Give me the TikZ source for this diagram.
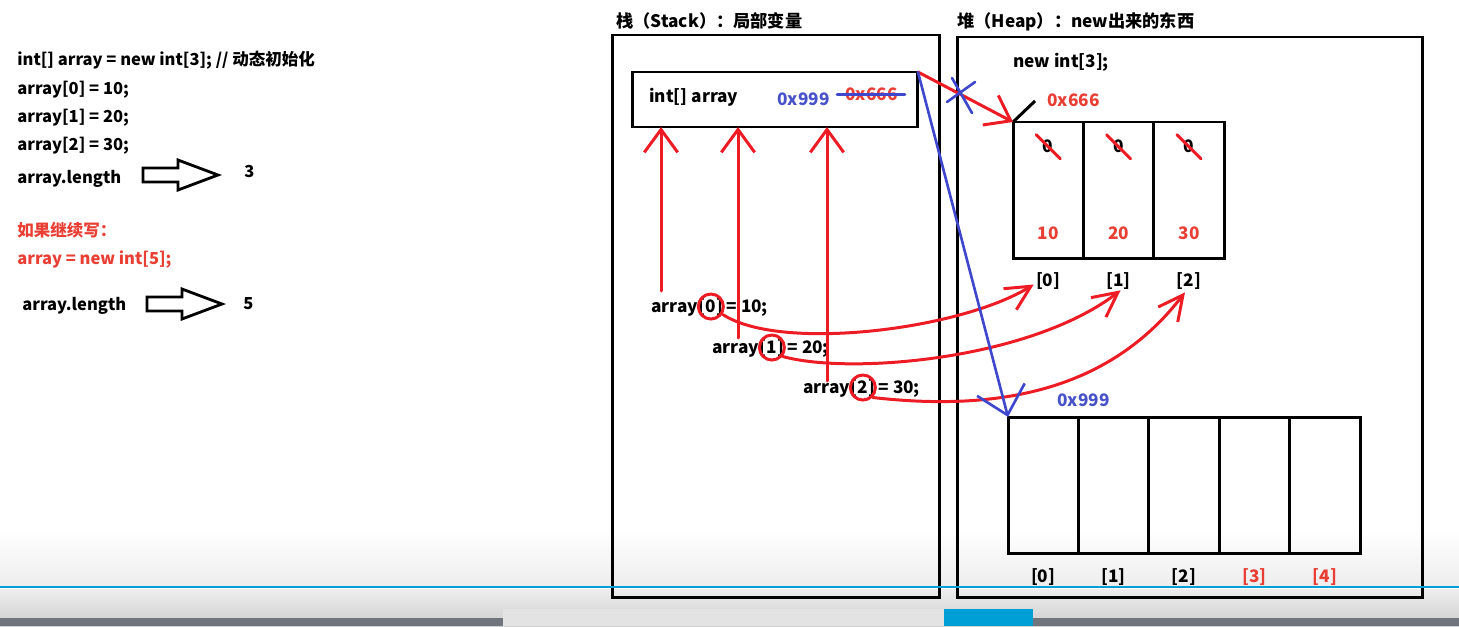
\documentclass[tikz,border=0pt]{standalone}
\usepackage{fontspec}
\setmainfont{Noto Sans CJK SC}
\usetikzlibrary{arrows.meta, positioning, calc}
\definecolor{penred}{RGB}{237,28,36}
\definecolor{penblue}{RGB}{63,72,204}
\definecolor{txtred}{RGB}{232,62,52}
\definecolor{txtblue}{RGB}{72,82,200}
\definecolor{barblue}{RGB}{0,160,214}
\definecolor{bardark}{RGB}{112,116,124}

\tikzset{
  txt/.style={font=\fontsize{9.4}{11}\selectfont\bfseries, inner sep=0pt, anchor=base west},
  bigtxt/.style={txt, font=\fontsize{9.8}{12}\selectfont\bfseries},
  box/.style={draw, line width=1.7pt, inner sep=0pt, outer sep=0pt},
  cell/.style={box, minimum width=1.408cm, minimum height=2.74cm, anchor=north west},
  hollow/.style={draw, line width=1.6pt, line join=miter},
  redpen/.style={penred, line width=1.7pt, line cap=round},
  bluepen/.style={penblue, line width=1.5pt, line cap=round},
  redarrow/.style={redpen, -{Straight Barb[length=13pt, width=19pt]}},
  curvearrow/.style={redpen, -{Straight Barb[length=14pt, width=14pt]}},
  bluearrow/.style={bluepen, -{Straight Barb[length=15pt, width=28pt]}}
}

\begin{document}
\begin{tikzpicture}[x=0.02cm, y=-0.02cm]
    \useasboundingbox (0,0) rectangle (1459,626);

    % 底部播放条
    \fill[top color=white, bottom color=gray!14] (0,530) rectangle (1459,586);
    \fill[top color=gray!14, bottom color=gray!38] (0,589) rectangle (1459,626);
    \fill[bardark] (0,618) rectangle (1459,626);
    \fill[gray!22] (503,609) rectangle (944,626);
    \fill[barblue] (944,609) rectangle (1033,626);

    % 左侧代码
    \node[txt] (l1) at (17,65) {int[] array = new int[3]; // 动态初始化};
    \node[txt] (l2) at (17,94) {array[0] = 10;};
    \node[txt] (l3) at (17,122) {array[1] = 20;};
    \node[txt] (l4) at (17,150) {array[2] = 30;};
    \node[txt] (len3) at (17,183) {array.length};
    \node[txt] (n3) at (244,177) {3};
    \node[txt, txtred] (l5) at (17,236) {如果继续写：};
    \node[txt, txtred] (l6) at (17,264) {array = new int[5];};
    \node[txt] (len5) at (22,310) {array.length};
    \node[txt] (n5) at (243,309) {5};

    % 空心箭头
    \coordinate (h3) at (143,175);
    \coordinate (h5) at (147,304);
    \foreach \h in {h3, h5} {
        \draw[hollow] (\h) ++(0,-7) -- ++(35,0) -- ++(0,-8) -- ++(40,15)
            -- ++(-40,15) -- ++(0,-8) -- ++(-35,0) -- cycle;
    }

    % 栈
    \node[bigtxt] (stacktitle) at (616,27) {栈（Stack）：局部变量};
    \node[box, anchor=north west, minimum width=6.56cm, minimum height=11.26cm] (stack) at (612,35) {};
    \node[box, anchor=north west, minimum width=5.72cm, minimum height=1.1cm] (var) at (632,72) {};
    \node[bigtxt] (vname) at (649,102) {int[] array};
    \node[bigtxt, txtblue] (newaddr) at (777,105) {0x999};
    \node[bigtxt, txtred] (oldaddr) at (845,100) {0x666};
    \draw[bluepen] ($(oldaddr.west)+(-8,1)$) -- ($(oldaddr.east)+(7,1)$);

    % 堆
    \node[bigtxt] (heaptitle) at (957,27) {堆（Heap）：new出来的东西};
    \node[box, anchor=north west, minimum width=9.32cm, minimum height=11.22cm] (heap) at (957,37) {};
    \node[bigtxt] (new3) at (1013,67) {new int[3];};
    \node[bigtxt, txtred] (addr3) at (1047,106) {0x666};
    \node[bigtxt, txtblue] (addr5) at (1057,406) {0x999};

    % 长度为3的数组
    \foreach \i/\v in {0/10, 1/20, 2/30} {
        \node[cell] (a3-\i) at (1013+70.4*\i,122) {};
        \node[bigtxt, anchor=base] (z\i) at ($(a3-\i.north)+(0,30)$) {0};
        \node[bigtxt, txtred, anchor=base] (v\i) at ($(a3-\i.north)+(0,117)$) {\v};
        \node[bigtxt, anchor=base] (i3-\i) at ($(a3-\i.south)+(0,28)$) {[\i]};
        \draw[redpen] ($(z\i.center)+(-12,-11)$) -- ($(z\i.center)+(12,13)$);
    }
    \draw[line width=1.7pt] (a3-0.north west) -- ++(22,-21);

    % 长度为5的数组
    \foreach \i/\c in {0/black, 1/black, 2/black, 3/txtred, 4/txtred} {
        \node[cell] (a5-\i) at (1008+70.4*\i,417) {};
        \node[bigtxt, \c, anchor=base] (i5-\i) at ($(a5-\i.south)+(0,29)$) {[\i]};
    }

    % 赋值语句
    \node[bigtxt] (s0) at (651,312) {array};
    \node[bigtxt] (k0) at (s0.base east) {[0]};
    \node[bigtxt] (e0) at (k0.base east) {\,= 10;};
    \node[bigtxt] (s1) at (712,353) {array};
    \node[bigtxt] (k1) at (s1.base east) {[1]};
    \node[bigtxt] (e1) at (k1.base east) {\,= 20;};
    \node[bigtxt] (s2) at (803,393) {array};
    \node[bigtxt] (k2) at (s2.base east) {[2]};
    \node[bigtxt] (e2) at (k2.base east) {\,= 30;};
    \foreach \k in {0,1,2} {
        \draw[redpen] (k\k.center) circle (12.5);
    }

    % 指向变量的箭头
    \coordinate (t0) at (661,291);
    \coordinate (t1) at (738,338);
    \coordinate (t2) at (827,381);
    \foreach \t in {t0, t1, t2} {
        \draw[redarrow] (\t) -- (\t |- var.south);
    }

    % 指向元素的曲线
    \draw[curvearrow] ($(k0.center)+(12,8)$) .. controls (780,352) and (960,330) .. ($(i3-0.west)+(-2,3)$);
    \draw[curvearrow] ($(k1.center)+(11,9)$) .. controls (850,375) and (1030,360) .. ($(i3-1.south)+(2,0)$);
    \draw[curvearrow] ($(k2.center)+(10,10)$) .. controls (1000,412) and (1110,390) .. ($(i3-2.south)+(-4,2)$);

    % 地址引用
    \draw[redarrow] (var.north east) -- (a3-0.north west);
    \coordinate (xmark) at (961,95);
    \draw[bluepen] ($(xmark)+(-14,7)$) -- ($(xmark)+(14,-13)$);
    \draw[bluepen] ($(xmark)+(-9,-17)$) -- ($(xmark)+(11,18)$);
    \draw[bluearrow] (var.north east) -- (a5-0.north west);

    \draw[barblue, line width=1.6pt] (0,587) -- (1459,587);
\end{tikzpicture}
\end{document}
